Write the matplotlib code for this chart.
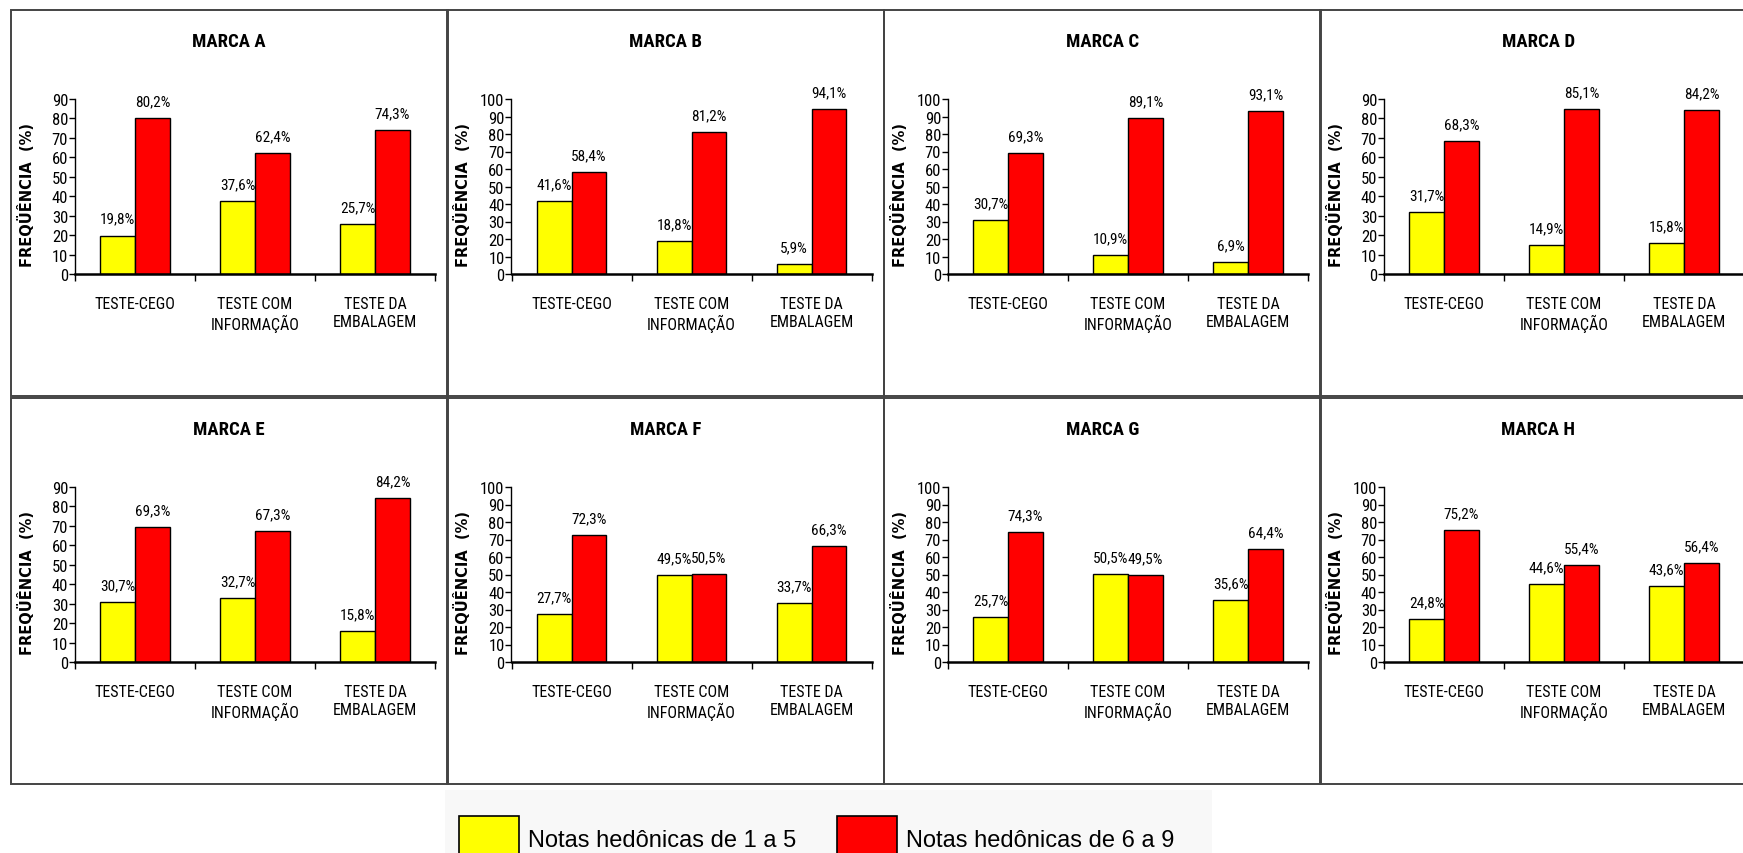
import matplotlib.pyplot as plt
from matplotlib import font_manager
from matplotlib.patches import Rectangle

# hedonic score frequencies (%) per brand: notes 1-5 (yellow) and 6-9 (red)
categories = ["TESTE-CEGO", "TESTE COM\nINFORMAÇÃO", "TESTE DA\nEMBALAGEM"]
brands = ["MARCA A", "MARCA B", "MARCA C", "MARCA D",
          "MARCA E", "MARCA F", "MARCA G", "MARCA H"]
low_a, high_a = [19.8, 37.6, 25.7], [80.2, 62.4, 74.3]
low_b, high_b = [41.6, 18.8, 5.9], [58.4, 81.2, 94.1]
low_c, high_c = [30.7, 10.9, 6.9], [69.3, 89.1, 93.1]
low_d, high_d = [31.7, 14.9, 15.8], [68.3, 85.1, 84.2]
low_e, high_e = [30.7, 32.7, 15.8], [69.3, 67.3, 84.2]
low_f, high_f = [27.7, 49.5, 33.7], [72.3, 50.5, 66.3]
low_g, high_g = [25.7, 50.5, 35.6], [74.3, 49.5, 64.4]
low_h, high_h = [24.8, 44.6, 43.6], [75.2, 55.4, 56.4]
y_max = [90, 100, 100, 90, 90, 100, 100, 100]
legend_labels = ["Notas hedônicas de 1 a 5", "Notas hedônicas de 6 a 9"]

lows = [low_a, low_b, low_c, low_d, low_e, low_f, low_g, low_h]
highs = [high_a, high_b, high_c, high_d, high_e, high_f, high_g, high_h]


# pick a narrow sans for the chart texts, whatever is installed
def narrow_font():
    fonts = font_manager.fontManager.ttflist
    names = {f.name for f in fonts}
    for name in ("Liberation Sans Narrow", "Arial Narrow", "Roboto Condensed",
                 "Noto Sans Condensed", "Open Sans Condensed"):
        if name in names:
            return {"family": name}
    for name in ("Liberation Sans", "DejaVu Sans", "Noto Sans", "Roboto", "Open Sans"):
        if any(f.name == name and f.stretch in ("condensed", "semi-condensed", 500 - 125)
               for f in fonts):
            return {"family": name, "stretch": "condensed"}
    return None

narrow = narrow_font()
scale = 1.0
if narrow is None:
    narrow = {"family": "Liberation Sans"}
    scale = 0.85

W, H = 1743, 854
fig = plt.figure(figsize=(W / 100, H / 100), dpi=100)

col_left = [11, 447.5, 884, 1320]
row_top = [11, 399]
panel_w, panel_h = 436.5, 386

def fx(px):
    return px / W

def fy(py):
    return 1 - py / H

for k in range(8):
    r, c = divmod(k, 4)
    px, py = col_left[c], row_top[r]

    # panel frame
    fig.add_artist(Rectangle((fx(px), fy(py + panel_h)), fx(panel_w), panel_h / H,
                             transform=fig.transFigure, fill=False,
                             edgecolor="#444444", lw=1.4))
    fig.text(fx(px + panel_w / 2), fy(py + 31), brands[k], ha="center", va="center",
             fontsize=13.5 * scale, fontweight="bold", **narrow)

    ax = fig.add_axes([fx(px + 64), fy(py + 89 + 175), fx(360), 175 / H])
    x = range(len(categories))
    w = 0.29
    b1 = ax.bar([i - w / 2 for i in x], lows[k], w, color="#ffff00",
                edgecolor="black", lw=1)
    b2 = ax.bar([i + w / 2 for i in x], highs[k], w, color="#ff0000",
                edgecolor="black", lw=1)
    for bars, vals in ((b1, lows[k]), (b2, highs[k])):
        for bar, v in zip(bars, vals):
            ax.annotate(f"{v:.1f}%".replace(".", ","),
                        (bar.get_x() + bar.get_width() / 2, v),
                        xytext=(0, 7), textcoords="offset points",
                        ha="center", va="bottom", fontsize=11 * scale, **narrow)

    ax.set_xlim(-0.5, 2.5)
    ax.set_ylim(0, y_max[k])
    ax.set_yticks(range(0, y_max[k] + 1, 10))
    ax.set_xticks(list(x))
    ax.set_xticklabels(categories, fontsize=11.5 * scale, linespacing=1.2, **narrow)
    ax.set_xticks([-0.5, 0.5, 1.5, 2.5], minor=True)
    ax.tick_params(axis="x", which="major", length=0, pad=16)
    ax.tick_params(axis="x", which="minor", length=5, width=1)
    ax.tick_params(axis="y", length=4, width=1, pad=1)
    for lab in ax.get_yticklabels():
        lab.set_fontproperties(font_manager.FontProperties(size=12 * scale, **narrow))
    ax.spines["top"].set_visible(False)
    ax.spines["right"].set_visible(False)
    ax.spines["left"].set_linewidth(1)
    ax.spines["bottom"].set_linewidth(1.8)
    ax.set_ylabel("FREQÜÊNCIA  (%)", fontsize=10.5, fontweight="bold",
                  family="DejaVu Sans")
    ax.yaxis.set_label_coords(-40 / 360, 80 / 175)

# legend strip at the bottom
fig.add_artist(Rectangle((fx(445), 0), fx(1212 - 445), (H - 791) / H,
                         transform=fig.transFigure, facecolor="#f8f8f8",
                         edgecolor="none", zorder=0))
for x0, color, label, tx in ((459, "#ffff00", legend_labels[0], 528),
                             (837, "#ff0000", legend_labels[1], 906)):
    fig.add_artist(Rectangle((fx(x0), fy(860)), fx(60), 43 / H,
                             transform=fig.transFigure, facecolor=color,
                             edgecolor="black", lw=1.2))
    fig.text(fx(tx), fy(841), label, ha="left", va="center", fontsize=17,
             family="Liberation Sans")

fig.savefig("out.png", dpi=100)
